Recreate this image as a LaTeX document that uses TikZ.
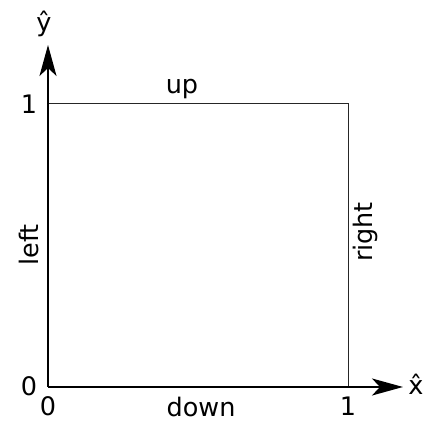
\documentclass[tikz,border=0pt]{standalone}
\usepackage{fontspec}
\setmainfont{DejaVu Sans}
\usetikzlibrary{arrows.meta,positioning}

\begin{document}
\begin{tikzpicture}[x=1pt, y=1pt,
  axis/.style={line width=2pt, -{Stealth[length=31pt, width=17pt, inset=8pt]}},
  edge/.style={line width=1pt, draw=black!85},
  lbl/.style={font=\fontsize{25.5}{28}\selectfont, inner sep=0pt}
]
  \useasboundingbox (0,0) rectangle (424,422);
  \coordinate (o) at (48,35);
  \coordinate (xend) at (403,35);
  \coordinate (yend) at (48,377);
  \coordinate (br) at (348,35);
  \coordinate (tr) at (348,318);
  \coordinate (tl) at (48,318);
  % square
  \draw[edge] (tl) -- (tr) -- (br);
  % axes
  \draw[axis] (o) -- (xend);
  \draw[axis] (o) -- (yend);
  % labels
  \node[lbl] (xhat) at (416,38) {\^{x}};
  \node[lbl] (yhat) at (44,398) {\^{y}};
  \node[lbl] (yone) at (29,318) {1};
  \node[lbl] (yzero) at (29,36) {0};
  \node[lbl] (xzero) at (48,16) {0};
  \node[lbl] (xone) at (348,16) {1};
  \node[lbl] (up) at (182,333) {up};
  \node[lbl] (down) at (201,15) {down};
  \node[lbl, rotate=90] (left) at (29,177) {left};
  \node[lbl, rotate=90] (right) at (365,190) {right};
\end{tikzpicture}
\end{document}
